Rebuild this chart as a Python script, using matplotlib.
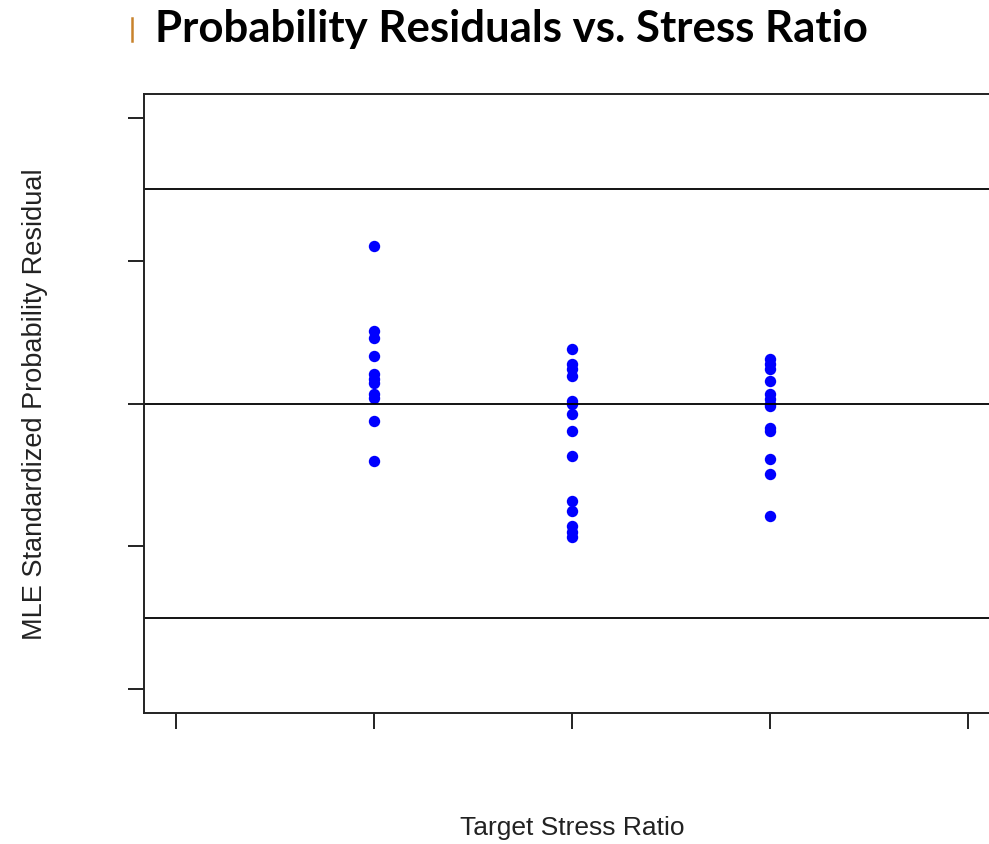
import matplotlib.pyplot as plt
from matplotlib.lines import Line2D

# Target stress ratio groups and the residuals observed at each
tick_ratios = [0.5, 0.6, 0.7, 0.8, 0.9]
group_ratios = [0.6, 0.7, 0.8]

resid_06 = [2.21, 1.02, 0.92, 0.66, 0.41, 0.35, 0.29, 0.13, 0.08, -0.24, -0.80]
resid_07 = [0.76, 0.56, 0.48, 0.38, 0.04, -0.01, -0.15, -0.39, -0.73,
            -1.37, -1.50, -1.71, -1.80, -1.87]
resid_08 = [0.62, 0.55, 0.49, 0.31, 0.13, 0.07, 0.00, -0.04, -0.34, -0.39,
            -0.77, -0.99, -1.57]

y_ticks = [-4, -2, 0, 2, 4]
ref_lines = [-3, 0, 3]

fig = plt.figure(figsize=(9.89, 8.45), dpi=100)
ax = fig.add_axes([0.1456, 0.155, 0.8655, 0.7325])

for xr, res in zip(group_ratios, [resid_06, resid_07, resid_08]):
    ax.plot([xr] * len(res), res, 'o', color='#0000ff', markersize=8.2,
            markeredgewidth=0)

for h in ref_lines:
    ax.axhline(h, color='black', linewidth=1.3)

ax.set_xlim(0.4838, 0.9162)
ax.set_ylim(-4.33, 4.33)
ax.set_xticks(tick_ratios)
ax.set_yticks(y_ticks)
ax.set_xticklabels([])
ax.set_yticklabels([])
ax.tick_params(direction='out', length=11.5, width=1.4, color='#222222')
for s in ax.spines.values():
    s.set_linewidth(1.4)
    s.set_color('#222222')

fig.text(572, 845 - 828, 'Target Stress Ratio', transform=None,
         ha='center', va='center', fontsize=19, family='Liberation Sans',
         color='#222222')
fig.text(35, 845 - 404, 'MLE Standardized Probability Residual', transform=None,
         ha='center', va='center', rotation=90, fontsize=19.5,
         family='Liberation Sans', color='#222222')

fig.text(155, 845 - 29, 'Probability Residuals vs. Stress Ratio', transform=None,
         ha='left', va='center', fontsize=31.5, fontweight='bold', family='Lato',
         color='black')
fig.add_artist(Line2D([132, 132], [845 - 19, 845 - 42], transform=None,
                      color='#c8822c', linewidth=1.8))

fig.savefig('out.png', dpi=100)
